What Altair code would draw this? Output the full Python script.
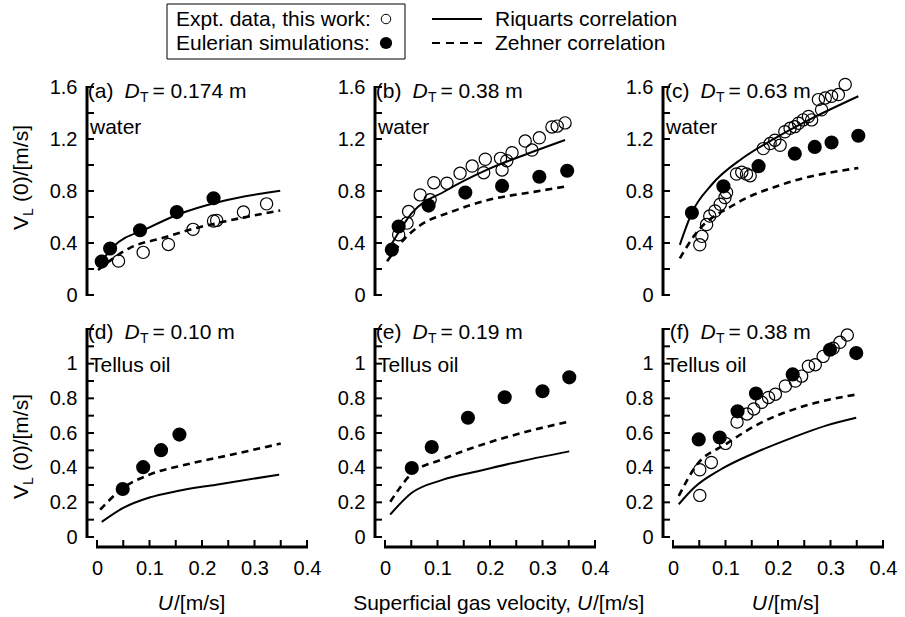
import altair as alt
import pandas as pd

FONT = "Liberation Sans"
W0, H0 = 210, 208          # size of the 0-0.4 / 0-ymax data area in pixels
EXT = 14                    # extra room (px) left of and below the data area
W, H = W0 + EXT, H0 + EXT   # cell size

# ---------------- data ----------------
# (a) water, D_T = 0.174 m
a_exp_u = [0.041, 0.088, 0.136, 0.183, 0.222, 0.228, 0.279, 0.323]
a_exp_v = [0.261, 0.328, 0.389, 0.505, 0.569, 0.574, 0.638, 0.701]
a_sim_u = [0.009, 0.025, 0.082, 0.152, 0.222]
a_sim_v = [0.257, 0.358, 0.498, 0.638, 0.744]
a_riq_u = [0.006, 0.031, 0.095, 0.158, 0.234, 0.349]
a_riq_v = [0.244, 0.371, 0.510, 0.625, 0.718, 0.802]
a_zeh_u = [0.002, 0.063, 0.126, 0.190, 0.253, 0.349]
a_zeh_v = [0.193, 0.363, 0.440, 0.516, 0.574, 0.650]

# (b) water, D_T = 0.38 m
b_exp_u = [0.026, 0.042, 0.045, 0.067, 0.086, 0.093, 0.118, 0.143, 0.166, 0.188, 0.191,
           0.220, 0.223, 0.232, 0.242, 0.267, 0.280, 0.294, 0.318, 0.328, 0.343]
b_exp_v = [0.464, 0.553, 0.642, 0.770, 0.732, 0.864, 0.860, 0.936, 0.992, 0.941, 1.044,
           1.051, 0.962, 1.033, 1.094, 1.184, 1.115, 1.209, 1.293, 1.299, 1.324]
b_sim_u = [0.013, 0.026, 0.083, 0.153, 0.223, 0.294, 0.347]
b_sim_v = [0.349, 0.527, 0.688, 0.788, 0.839, 0.910, 0.956]
b_riq_u = [0.010, 0.051, 0.115, 0.198, 0.274, 0.343]
b_riq_v = [0.374, 0.630, 0.800, 0.970, 1.090, 1.192]
b_zeh_u = [0.004, 0.039, 0.064, 0.128, 0.198, 0.286, 0.350]
b_zeh_v = [0.259, 0.440, 0.527, 0.642, 0.732, 0.795, 0.839]

# (c) water, D_T = 0.63 m
c_exp_u = [0.051, 0.055, 0.064, 0.070, 0.080, 0.090, 0.099, 0.102, 0.121, 0.131, 0.140,
           0.147, 0.172, 0.185, 0.194, 0.204, 0.213, 0.223, 0.232, 0.239, 0.248, 0.258,
           0.264, 0.283, 0.277, 0.290, 0.302, 0.315, 0.328]
c_exp_v = [0.386, 0.451, 0.542, 0.607, 0.646, 0.698, 0.750, 0.789, 0.931, 0.945, 0.931,
           0.918, 1.126, 1.165, 1.191, 1.152, 1.256, 1.282, 1.295, 1.321, 1.347, 1.373,
           1.347, 1.425, 1.503, 1.516, 1.529, 1.542, 1.620]
c_sim_u = [0.036, 0.096, 0.163, 0.232, 0.270, 0.302, 0.353]
c_sim_v = [0.633, 0.836, 0.991, 1.087, 1.139, 1.173, 1.225]
c_riq_u = [0.013, 0.036, 0.074, 0.131, 0.194, 0.258, 0.353]
c_riq_v = [0.386, 0.633, 0.850, 1.048, 1.205, 1.345, 1.529]
c_zeh_u = [0.013, 0.042, 0.118, 0.210, 0.353]
c_zeh_v = [0.282, 0.465, 0.698, 0.853, 0.977]

# (d) Tellus oil, D_T = 0.10 m
d_sim_u = [0.049, 0.088, 0.122, 0.157]
d_sim_v = [0.277, 0.403, 0.501, 0.591]
d_riq_u = [0.009, 0.050, 0.100, 0.151, 0.227, 0.347]
d_riq_v = [0.087, 0.168, 0.228, 0.264, 0.302, 0.360]
d_zeh_u = [0.006, 0.050, 0.100, 0.170, 0.258, 0.350]
d_zeh_v = [0.158, 0.283, 0.360, 0.418, 0.476, 0.539]

# (e) Tellus oil, D_T = 0.19 m
e_sim_u = [0.051, 0.089, 0.158, 0.228, 0.300, 0.351]
e_sim_v = [0.398, 0.519, 0.688, 0.806, 0.841, 0.921]
e_riq_u = [0.010, 0.051, 0.108, 0.179, 0.261, 0.351]
e_riq_v = [0.130, 0.255, 0.328, 0.381, 0.439, 0.494]
e_zeh_u = [0.010, 0.051, 0.108, 0.191, 0.274, 0.354]
e_zeh_v = [0.203, 0.366, 0.447, 0.539, 0.611, 0.668]

# (f) Tellus oil, D_T = 0.38 m
f_exp_u = [0.051, 0.051, 0.073, 0.100, 0.122, 0.141, 0.154, 0.169, 0.182, 0.195,
           0.214, 0.233, 0.245, 0.258, 0.271, 0.286, 0.305, 0.318, 0.332]
f_exp_v = [0.240, 0.388, 0.430, 0.540, 0.663, 0.710, 0.739, 0.777, 0.805, 0.824,
           0.871, 0.900, 0.928, 0.985, 0.994, 1.042, 1.089, 1.123, 1.165]
f_sim_u = [0.049, 0.089, 0.123, 0.158, 0.228, 0.299, 0.349]
f_sim_v = [0.563, 0.574, 0.725, 0.828, 0.938, 1.080, 1.061]
f_riq_u = [0.011, 0.040, 0.090, 0.154, 0.229, 0.293, 0.349]
f_riq_v = [0.189, 0.284, 0.388, 0.483, 0.575, 0.644, 0.688]
f_zeh_u = [0.011, 0.043, 0.103, 0.166, 0.242, 0.353]
f_zeh_v = [0.237, 0.407, 0.540, 0.657, 0.748, 0.824]

# axis ticks / labels
x_ticks = [0, 0.05, 0.1, 0.15, 0.2, 0.25, 0.3, 0.35, 0.4]
x_labels = [0, 0.1, 0.2, 0.3, 0.4]
top_ticks = [0, 0.2, 0.4, 0.6, 0.8, 1.0, 1.2, 1.4, 1.6]
top_labels = [0, 0.4, 0.8, 1.2, 1.6]
bot_ticks = [0, 0.1, 0.2, 0.3, 0.4, 0.5, 0.6, 0.7, 0.8, 0.9, 1.0, 1.1, 1.2]
bot_labels = [0, 0.2, 0.4, 0.6, 0.8, 1.0]

# panel texts
panel_tags = ["(a)", "(b)", "(c)", "(d)", "(e)", "(f)"]
panel_dt = ["= 0.174 m", "= 0.38 m", "= 0.63 m", "= 0.10 m", "= 0.19 m", "= 0.38 m"]
panel_fluid = ["water", "water", "water", "Tellus oil", "Tellus oil", "Tellus oil"]
legend_exp = "Expt. data, this work:"
legend_sim = "Eulerian simulations:"
legend_riq = "Riquarts correlation"
legend_zeh = "Zehner correlation"
ytitle_main, ytitle_sub, ytitle_rest = "V", "L", "(0)/[m/s]"
xtitle_pre = "Superficial gas velocity,"
xtitle_var, xtitle_unit = "U", "/[m/s]"

ONE = pd.DataFrame({"k": [0]})
XMAX = 0.4
PXU = XMAX / W0   # x data units per pixel


def txt(s, x, y, size=21, italic=False, align="left", angle=0):
    # x is given relative to the data origin (u = 0)
    return alt.Chart(ONE).mark_text(
        text=s, font=FONT, fontSize=size,
        fontStyle="italic" if italic else "normal",
        align=align, baseline="alphabetic", angle=angle, color="black",
    ).encode(x=alt.value(x + EXT), y=alt.value(y))


def hrule(x1, x2, y, w=2, dash=None):
    kw = dict(color="black", strokeWidth=w)
    if dash:
        kw["strokeDash"] = dash
    return alt.Chart(ONE).mark_rule(**kw).encode(
        x=alt.value(x1 + EXT), x2=alt.value(x2 + EXT), y=alt.value(y))


def vrule(x, y1, y2, w=1):
    return alt.Chart(ONE).mark_rule(color="black", strokeWidth=w).encode(
        x=alt.value(x + EXT), y=alt.value(y1), y2=alt.value(y2))


def panel(i, exp, sim, riq, zeh, ymax, yt, yl, bottom):
    """Returns (main layers, axis-decoration layers)."""
    PYU = ymax / H0
    xs = alt.Scale(domain=[-EXT * PXU, XMAX], nice=False, zero=False)
    ys = alt.Scale(domain=[-EXT * PYU, ymax], nice=False, zero=False)
    common = dict(labelFont=FONT, labelFontSize=20, labelColor="black",
                  domain=False, ticks=False, grid=False, title=None,
                  labelOverlap=False, format=".1~f")
    if bottom:
        xax = alt.Axis(values=x_labels, labelPadding=7, labelFlush=False, **common)
    else:
        xax = alt.Axis(domain=False, labels=False, ticks=False, grid=False, title=None)
    yax = alt.Axis(values=yl, labelPadding=6, **common)

    def X(f):
        return alt.X(f, type="quantitative", scale=xs, axis=xax)

    def Y(f):
        return alt.Y(f, type="quantitative", scale=ys, axis=yax)

    L = []
    L.append(alt.Chart(pd.DataFrame({"u": riq[0], "v": riq[1]}))
             .mark_line(color="black", strokeWidth=2, interpolate="monotone")
             .encode(x=X("u"), y=Y("v")))
    L.append(alt.Chart(pd.DataFrame({"u": zeh[0], "v": zeh[1]}))
             .mark_line(color="black", strokeWidth=2.6, strokeDash=[7, 5],
                        interpolate="monotone")
             .encode(x=X("u"), y=Y("v")))
    L.append(alt.Chart(pd.DataFrame({"u": sim[0], "v": sim[1]}))
             .mark_circle(color="black", size=200, opacity=1)
             .encode(x=X("u"), y=Y("v")))
    if exp is not None:
        L.append(alt.Chart(pd.DataFrame({"u": exp[0], "v": exp[1]}))
                 .mark_point(shape="circle", filled=False, color="black",
                             strokeWidth=1.2, size=150, opacity=1)
                 .encode(x=X("u"), y=Y("v")))

    # panel labels
    b1 = 11 if not bottom else 10
    b2 = 47 if not bottom else 43
    L.append(txt(panel_tags[i], 16.5, b1, align="right"))
    L.append(txt("D", 27.5, b1, italic=True))
    L.append(txt("T", 43, b1 + 4, size=14))
    L.append(txt(panel_dt[i], 55.5, b1))
    L.append(txt(panel_fluid[i], -7, b2))

    # axis lines and inward ticks -> appended at the very end of the layer stack
    A = []
    A.append(vrule(-10, -1, H0 + 1, w=3))
    A.append(alt.Chart(pd.DataFrame({"t": yt}))
             .mark_rule(color="black", strokeWidth=2)
             .encode(y=Y("t"), x=alt.value(EXT - 10), x2=alt.value(EXT - 3)))
    if bottom:
        A.append(hrule(-1, W0 + 1, H0 + 10, w=3))
        A.append(alt.Chart(pd.DataFrame({"t": x_ticks}))
                 .mark_rule(color="black", strokeWidth=2)
                 .encode(x=X("t"), y=alt.value(H0 + 10), y2=alt.value(H0 + 3)))
    return L, A


pa, aa = panel(0, (a_exp_u, a_exp_v), (a_sim_u, a_sim_v), (a_riq_u, a_riq_v),
               (a_zeh_u, a_zeh_v), 1.6, top_ticks, top_labels, False)
pb, ab = panel(1, (b_exp_u, b_exp_v), (b_sim_u, b_sim_v), (b_riq_u, b_riq_v),
               (b_zeh_u, b_zeh_v), 1.6, top_ticks, top_labels, False)
pc, ac = panel(2, (c_exp_u, c_exp_v), (c_sim_u, c_sim_v), (c_riq_u, c_riq_v),
               (c_zeh_u, c_zeh_v), 1.6, top_ticks, top_labels, False)
pd_, ad = panel(3, None, (d_sim_u, d_sim_v), (d_riq_u, d_riq_v),
                (d_zeh_u, d_zeh_v), 1.2, bot_ticks, bot_labels, True)
pe, ae = panel(4, None, (e_sim_u, e_sim_v), (e_riq_u, e_riq_v),
               (e_zeh_u, e_zeh_v), 1.2, bot_ticks, bot_labels, True)
pf, af = panel(5, (f_exp_u, f_exp_v), (f_sim_u, f_sim_v), (f_riq_u, f_riq_v),
               (f_zeh_u, f_zeh_v), 1.2, bot_ticks, bot_labels, True)

# y-axis titles (rotated, with subscript)
for lst, y0 in ((pa, 143), (pd_, 170)):
    lst.append(txt(ytitle_main, -69, y0, angle=270))
    lst.append(txt(ytitle_sub, -64, y0 - 14, size=14, angle=270))
    lst.append(txt(ytitle_rest, -69, y0 - 28, angle=270))

# x-axis titles
XB = 281
pd_.append(txt(xtitle_var, 76, XB, italic=True, align="right"))
pd_.append(txt(xtitle_unit, 77, XB))
pe.append(txt(xtitle_pre, 186, XB, align="right"))
pe.append(txt(xtitle_var, 192, XB, italic=True))
pe.append(txt(xtitle_unit, 208, XB))
pf.append(txt(xtitle_var, 94, XB, italic=True, align="right"))
pf.append(txt(xtitle_unit, 95, XB))

# legend (relative to panel b): framed box drawn with four rules
BX1, BX2, BY1, BY2 = -218, 20, -83, -28
pb.append(hrule(BX1, BX2, BY1, w=1))
pb.append(hrule(BX1, BX2, BY2, w=1))
pb.append(vrule(BX1, BY1, BY2, w=1))
pb.append(vrule(BX2, BY1, BY2, w=1))
pb.append(txt(legend_exp, -209, -61))
pb.append(txt(legend_sim, -209, -37))
pb.append(alt.Chart(ONE).mark_point(shape="circle", filled=False, color="black",
                                    strokeWidth=1, size=90, opacity=1)
          .encode(x=alt.value(1 + EXT), y=alt.value(-68)))
pb.append(alt.Chart(ONE).mark_circle(color="black", size=150, opacity=1)
          .encode(x=alt.value(1 + EXT), y=alt.value(-44)))
pb.append(hrule(47, 97, -68, w=2))
pb.append(hrule(47, 97, -44, w=2.2, dash=[8, 6]))
pb.append(txt(legend_riq, 110, -61))
pb.append(txt(legend_zeh, 110, -37))

charts = [alt.layer(*(p + a)).properties(width=W, height=H)
          for p, a in ((pa, aa), (pb, ab), (pc, ac), (pd_, ad), (pe, ae), (pf, af))]

chart = alt.concat(
    *charts, columns=3, spacing={"row": 34 - EXT, "column": 78 - EXT}, bounds="flush"
).properties(
    padding={"left": 11, "top": 3, "right": 0, "bottom": 0}, background="white"
).configure_view(stroke=None)

chart.save("out.html", embed_options={"renderer": "svg", "actions": False})
